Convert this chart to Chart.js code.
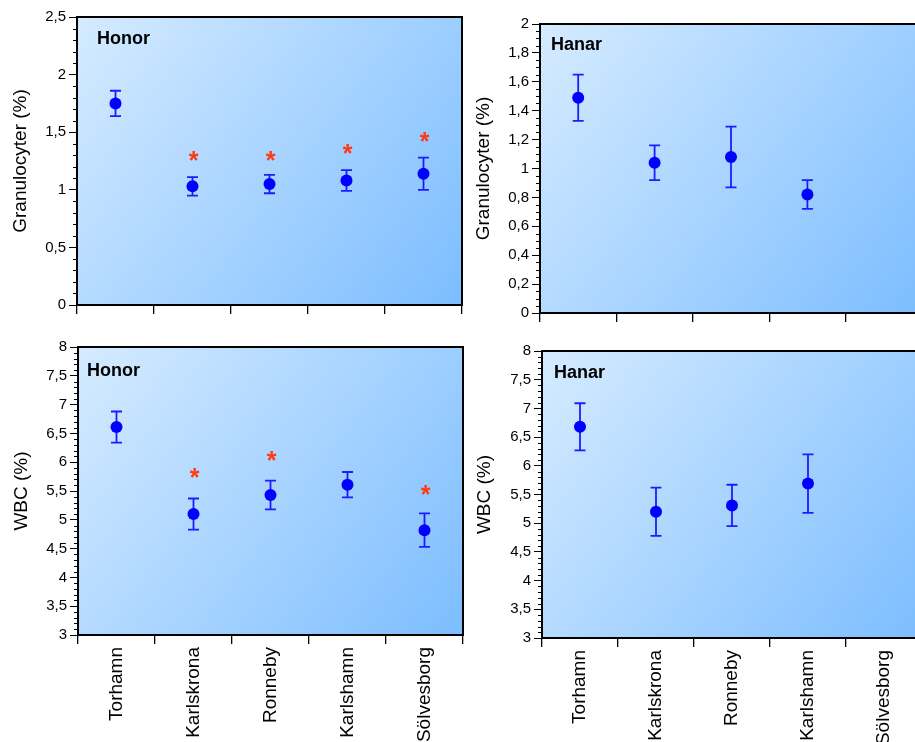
<!DOCTYPE html>
<html>
<head>
<meta charset="utf-8">
<script src="https://cdn.jsdelivr.net/npm/chart.js@4.4.1/dist/chart.umd.min.js"></script>
<style>
  html, body { margin: 0; padding: 0; background: #fff; overflow: hidden; width: 915px; height: 742px; }
  canvas { position: absolute; }
</style>
</head>
<body>
<canvas id="granHonor" width="475" height="325" style="left:0;top:0"></canvas>
<canvas id="granHanar" width="470" height="330" style="left:458px;top:0"></canvas>
<canvas id="wbcHonor" width="475" height="412" style="left:0;top:330px"></canvas>
<canvas id="wbcHanar" width="470" height="412" style="left:458px;top:330px"></canvas>
<script>
const sites = ['Torhamn', 'Karlskrona', 'Ronneby', 'Karlshamn', 'Sölvesborg'];

// Granulocyter (%) - honor
const granHonorMean = [1.75, 1.03, 1.05, 1.08, 1.14];
const granHonorErr = [0.11, 0.08, 0.08, 0.09, 0.14];
const granHonorStar = [null, 1.29, 1.29, 1.35, 1.46];
// Granulocyter (%) - hanar
const granHanarMean = [1.49, 1.04, 1.08, 0.82, null];
const granHanarErr = [0.16, 0.12, 0.21, 0.10, null];

// WBC (%) - honor
const wbcHonorMean = [6.61, 5.10, 5.43, 5.61, 4.82];
const wbcHonorErr = [0.27, 0.27, 0.25, 0.22, 0.29];
const wbcHonorStar = [null, 5.82, 6.10, null, 5.51];
// WBC (%) - hanar
const wbcHanarMean = [6.68, 5.20, 5.31, 5.69, null];
const wbcHanarErr = [0.41, 0.42, 0.36, 0.51, null];

// y axes: [min, max, major step, minor step]
const granHonorAxis = [0, 2.5, 0.5, 0.1];
const granHanarAxis = [0, 2, 0.2, 0.05];
const wbcAxis = [3, 8, 0.5, 0.1];

const FONT = '"Liberation Sans", Arial, Helvetica, sans-serif';

function fmt(v) {
    return String(Math.round(v * 100) / 100).replace('.', ',');
}

// background, error bars, stars, panel text, frame and minor ticks
const decoPlugin = {
    id: 'deco',
    beforeDraw(chart, args, opts) {
        const { ctx, chartArea: a } = chart;
        const g = ctx.createLinearGradient(a.left, a.top, a.right, a.bottom);
        g.addColorStop(0, '#d5ebff');
        g.addColorStop(1, '#7cbdff');
        ctx.save();
        ctx.fillStyle = g;
        ctx.fillRect(a.left, a.top, a.right - a.left, a.bottom - a.top);
        ctx.restore();
    },
    beforeDatasetsDraw(chart, args, opts) {
        const { ctx, scales: { x, y } } = chart;
        const mean = chart.data.datasets[0].data;
        ctx.save();
        ctx.strokeStyle = '#1c1cff';
        ctx.lineWidth = 1.8;
        for (let i = 0; i < mean.length; i++) {
            if (mean[i] === null) continue;
            let px = x.getPixelForValue(i);
            let top = y.getPixelForValue(mean[i] + opts.err[i]);
            let bot = y.getPixelForValue(mean[i] - opts.err[i]);
            ctx.beginPath();
            ctx.moveTo(px, top); ctx.lineTo(px, bot);
            ctx.moveTo(px - 5.5, top); ctx.lineTo(px + 5.5, top);
            ctx.moveTo(px - 5.5, bot); ctx.lineTo(px + 5.5, bot);
            ctx.stroke();
        }
        ctx.restore();
    },
    afterDraw(chart, args, opts) {
        const { ctx, chartArea: a, scales: { x, y } } = chart;
        ctx.save();
        // stars
        if (opts.stars) {
            ctx.fillStyle = '#ff3a12';
            ctx.font = 'bold 25px ' + FONT;
            ctx.textAlign = 'center';
            ctx.textBaseline = 'alphabetic';
            let m = ctx.measureText('*');
            let mid = (m.actualBoundingBoxAscent - m.actualBoundingBoxDescent) / 2;
            for (let i = 0; i < opts.stars.length; i++) {
                if (opts.stars[i] === null) continue;
                ctx.fillText('*', x.getPixelForValue(i) + 1, y.getPixelForValue(opts.stars[i]) + mid);
            }
        }
        // minor ticks
        const [min, max, major, minor] = opts.axis;
        ctx.strokeStyle = '#000';
        ctx.lineWidth = 1;
        ctx.beginPath();
        const n = Math.round((max - min) / minor);
        for (let i = 0; i <= n; i++) {
            let v = min + i * minor;
            let r = (v - min) / major;
            if (Math.abs(r - Math.round(r)) < 1e-6) continue;
            let py = Math.round(y.getPixelForValue(v)) + 0.5;
            ctx.moveTo(a.left - 4, py); ctx.lineTo(a.left, py);
        }
        ctx.stroke();
        // frame
        ctx.lineWidth = 2;
        ctx.strokeRect(a.left, a.top, a.right - a.left, a.bottom - a.top);
        // panel label
        ctx.fillStyle = '#000';
        ctx.font = 'bold 18px ' + FONT;
        ctx.textAlign = 'left';
        ctx.fillText(opts.label, a.left + opts.dx, a.top + opts.dy);
        ctx.restore();
    }
};

function makePanel(id, p) {
    const [min, max, major] = p.axis;
    new Chart(document.getElementById(id), {
        type: 'line',
        data: {
            labels: sites,
            datasets: [{
                data: p.mean,
                showLine: false,
                pointRadius: 6,
                pointBackgroundColor: '#0000ff',
                pointBorderWidth: 0,
                borderColor: '#0000ff'
            }]
        },
        options: {
            responsive: false,
            animation: false,
            events: [],
            layout: { padding: p.pad },
            plugins: {
                legend: { display: false },
                tooltip: { enabled: false },
                deco: { err: p.err, stars: p.stars, axis: p.axis, label: p.label, dx: p.dx, dy: p.dy }
            },
            scales: {
                x: {
                    type: 'category',
                    offset: true,
                    grid: { offset: true, drawOnChartArea: false, tickLength: 9, color: '#000', lineWidth: 1.3 },
                    border: { display: true, color: '#000', width: 2 },
                    ticks: {
                        display: p.showLabels,
                        minRotation: 90, maxRotation: 90, autoSkip: false,
                        padding: 3, color: '#000',
                        font: { family: FONT, size: 19 }
                    },
                    afterFit: s => { s.height = p.xh; }
                },
                y: {
                    min: min, max: max,
                    grid: { drawOnChartArea: false, tickLength: 8, color: '#000', lineWidth: 1 },
                    border: { display: true, color: '#000', width: 2 },
                    ticks: {
                        stepSize: major, padding: 3, color: '#000',
                        font: { family: FONT, size: 15 },
                        callback: v => fmt(v)
                    },
                    title: {
                        display: true, text: p.title, color: '#000',
                        font: { family: FONT, size: 19 },
                        padding: { top: p.tp, bottom: 0 }
                    },
                    afterFit: s => { s.width = p.yw; }
                }
            }
        },
        plugins: [decoPlugin]
    });
}

makePanel('granHonor', {
    mean: granHonorMean, err: granHonorErr, stars: granHonorStar, axis: granHonorAxis,
    title: 'Granulocyter (%)', label: 'Honor', dx: 20, dy: 27,
    pad: { top: 17, right: 13, left: 0, bottom: 0 }, yw: 77, xh: 20, tp: 9, showLabels: false
});
makePanel('granHanar', {
    mean: granHanarMean, err: granHanarErr, stars: null, axis: granHanarAxis,
    title: 'Granulocyter (%)', label: 'Hanar', dx: 11, dy: 26,
    pad: { top: 24, right: 4, left: 0, bottom: 0 }, yw: 82, xh: 17, tp: 14, showLabels: false
});
makePanel('wbcHonor', {
    mean: wbcHonorMean, err: wbcHonorErr, stars: wbcHonorStar, axis: wbcAxis,
    title: 'WBC (%)', label: 'Honor', dx: 9, dy: 29,
    pad: { top: 17, right: 12, left: 0, bottom: 0 }, yw: 78, xh: 107, tp: 10, showLabels: true
});
makePanel('wbcHanar', {
    mean: wbcHanarMean, err: wbcHanarErr, stars: null, axis: wbcAxis,
    title: 'WBC (%)', label: 'Hanar', dx: 12, dy: 27,
    pad: { top: 21, right: 2, left: 0, bottom: 0 }, yw: 84, xh: 104, tp: 15, showLabels: true
});
</script>
</body>
</html>
